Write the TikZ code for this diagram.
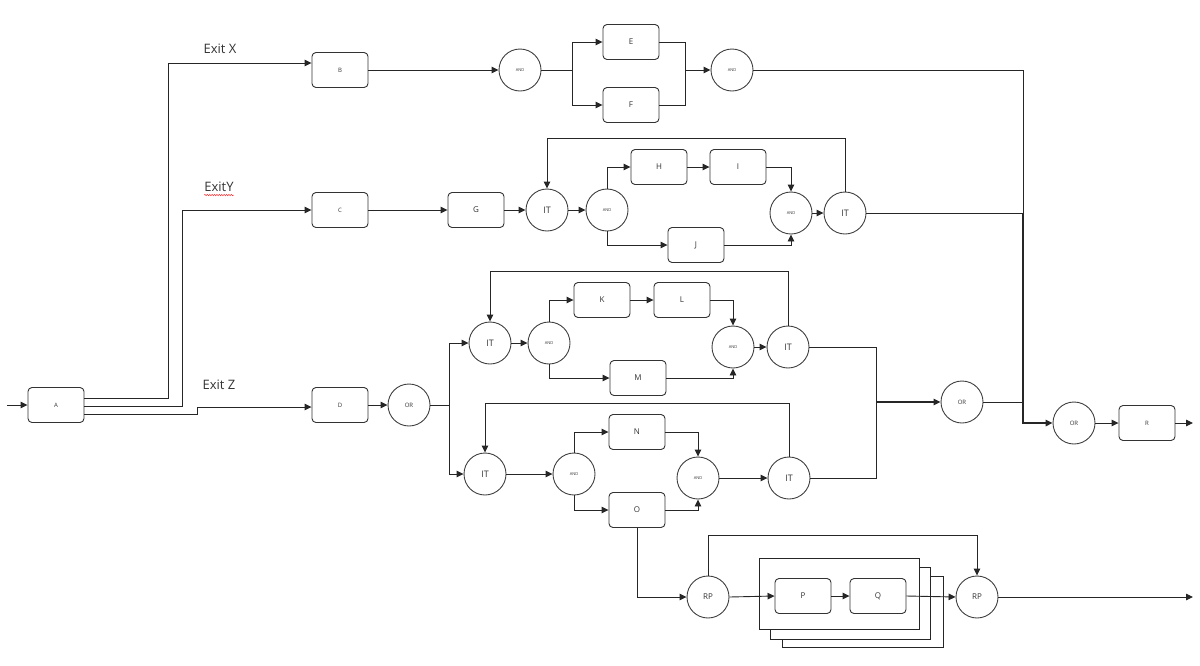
\documentclass[tikz,border=0pt]{standalone}
\usepackage{fontspec}
\setmainfont{Open Sans}
\usetikzlibrary{arrows.meta,calc,decorations.pathmorphing}
\begin{document}
\begin{tikzpicture}[x=1pt,y=-1pt,
  ln/.style={draw=black!85,line width=0.9pt},
  arr/.style={ln,-{Triangle[length=7pt,width=6.5pt]}},
  box/.style={draw=black!80,line width=0.9pt,rounded corners=4pt,minimum width=56pt,minimum height=35pt,inner sep=0pt,fill=white,text=black!80,font=\fontsize{8}{9}\selectfont},
  sbox/.style={box,font=\fontsize{6}{7}\selectfont},
  circ/.style={draw=black!75,line width=0.9pt,circle,minimum size=42pt,inner sep=0pt,fill=white,text=black!80},
  andc/.style={circ,font=\fontsize{4}{5}\selectfont},
  orc/.style={circ,font=\fontsize{6}{7}\selectfont},
  itc/.style={circ,font=\fontsize{9}{10}\selectfont},
  rpc/.style={circ,font=\fontsize{8}{9}\selectfont},
  lbl/.style={text=black!80,font=\fontsize{13}{14}\selectfont,inner sep=0pt},
  stack/.style={draw=black!85,line width=0.9pt,fill=white}
]
\useasboundingbox (0,0) rectangle (1200,665);

% stacked frames
\draw[stack] (782,576) rectangle (943,647);
\draw[stack] (770,567) rectangle (930,639);
\draw[stack] (759,558) rectangle (919,629);

% nodes
\node[sbox] (A) at (56,405) {A};
\node[sbox] (B) at (340,70) {B};
\node[sbox] (C) at (340,210) {C};
\node[sbox] (D) at (340,405) {D};
\node[orc] (ORa) at (409,405) {OR};

\node[andc] (AND1) at (520,70) {AND};
\node[box] (E) at (631,42) {E};
\node[box] (F) at (631,105) {F};
\node[andc] (AND2) at (732,70) {AND};

\node[box] (G) at (476,210) {G};
\node[itc] (IT1) at (547,210) {IT};
\node[andc] (AND3) at (607,210) {AND};
\node[box] (H) at (659,167) {H};
\node[box] (I) at (738,167) {I};
\node[box] (J) at (696,245) {J};
\node[andc] (AND4) at (791,213) {AND};
\node[itc] (IT2) at (845,213) {IT};

\node[itc] (IT3) at (490,343) {IT};
\node[andc] (AND5) at (549,343) {AND};
\node[box] (K) at (602,300) {K};
\node[box] (L) at (682,300) {L};
\node[box] (M) at (638,378) {M};
\node[andc] (AND6) at (733,347) {AND};
\node[itc] (IT4) at (788,347) {IT};

\node[itc] (IT5) at (485,474) {IT};
\node[andc] (AND7) at (574,474) {AND};
\node[box] (N) at (637,432) {N};
\node[box] (O) at (637,510) {O};
\node[andc] (AND8) at (698,478) {AND};
\node[itc] (IT6) at (789,478) {IT};

\node[orc] (OR1) at (962,402) {OR};
\node[orc] (OR2) at (1074,423) {OR};
\node[sbox] (R) at (1147,423) {R};

\node[rpc] (RP1) at (708,597) {RP};
\node[box] (P) at (803,596) {P};
\node[box] (Q) at (878,596) {Q};
\node[rpc] (RP2) at (977,597) {RP};

% labels
\node[lbl] (lx) at (220,49) {Exit X};
\node[lbl] (ly) at (219,187) {ExitY};
\node[lbl] (lz) at (219,385) {Exit Z};
\draw[red!80,line width=0.5pt,decorate,decoration={snake,amplitude=0.7pt,segment length=2.4pt}] ($(ly.south west)+(0,3)$) -- ($(ly.south east)+(0,3)$);

% coordinates
\coordinate (in) at (7,405);
\coordinate (sp) at (449,405);
\coordinate (m1) at (685,70);
\coordinate (v2) at (1023,423);
\coordinate (v3) at (876,402);
\coordinate (out1) at (1193,423);
\coordinate (out2) at (1193,597);

% connectors from A
\draw[arr] (in) -- (A.west);
\draw[arr] ($(A.east)+(0,-7)$) -- ($(A.east)+(84,-7)$) |- ($(B.west)+(0,-7)$);
\draw[arr] ($(A.east)+(0,1)$) -- ($(A.east)+(98,1)$) |- (C.west);
\draw[arr] ($(A.east)+(0,9)$) -- ($(A.east)+(113,9)$) |- ($(D.west)+(0,2)$);

% row 1
\draw[arr] (B.east) -- (AND1.west);
\draw[arr] (AND1.east) -- ++(31,0) |- (E.west);
\draw[arr] (AND1.east) -- ++(31,0) |- (F.west);
\draw[ln] (E.east) -| (m1);
\draw[ln] (F.east) -| (m1);
\draw[arr] (m1) -- (AND2.west);
\draw[ln] (AND2.east) -| (IT2.east -| v2);
\draw[arr,line width=1.5pt] (IT2.east -| v2) -- (v2) -- (OR2.west);

% row 2
\draw[arr] (C.east) -- (G.west);
\draw[arr] (G.east) -- (IT1.west);
\draw[arr] (IT1.east) -- (AND3.west);
\draw[arr] (AND3.north) |- (H.west);
\draw[arr] (H.east) -- (I.west);
\draw[arr] (I.east) -| (AND4.north);
\draw[arr] (AND3.south) |- (J.west);
\draw[arr] (J.east) -| (AND4.south);
\draw[arr] (AND4.east) -- (IT2.west);
\draw[arr] (IT2.north) -- ++(0,-53) -| (IT1.north);
\draw[ln] (IT2.east) -- (IT2.east -| v2);

% D and split
\draw[arr] (D.east) -- (ORa.west);
\draw[ln] (ORa.east) -- (sp);
\draw[arr] (sp) |- (IT3.west);
\draw[arr] (sp) |- (IT5.west);

% row 3
\draw[arr] (IT3.east) -- (AND5.west);
\draw[arr] (AND5.north) |- (K.west);
\draw[arr] (K.east) -- (L.west);
\draw[arr] (L.east) -| (AND6.north);
\draw[arr] (AND5.south) |- (M.west);
\draw[arr] (M.east) -| (AND6.south);
\draw[arr] (AND6.east) -- (IT4.west);
\draw[arr] (IT4.north) -- ++(0,-54) -| (IT3.north);
\draw[ln] (IT4.east) -| (v3);

% row 4
\draw[arr] (IT5.east) -- (AND7.west);
\draw[arr] (AND7.north) |- (N.west);
\draw[arr] (AND7.south) |- (O.west);
\draw[arr] (N.east) -| (AND8.north);
\draw[arr] (O.east) -| (AND8.south);
\draw[arr] (AND8.east) -- (IT6.west);
\draw[arr] (IT6.north) -- ++(0,-53) -| (IT5.north);
\draw[ln] (IT6.east) -| (v3);

% merge
\draw[arr,line width=1.2pt] (v3) -- (OR1.west);
\draw[ln] (OR1.east) -- (OR1.east -| v2);
\draw[arr] (OR2.east) -- (R.west);
\draw[arr] (R.east) -- (out1);

% bottom
\draw[arr] (O.south) |- (RP1.west);
\draw[arr] (RP1.east) -- (P.west);
\draw[arr] (P.east) -- (Q.west);
\draw[arr] (Q.east) -- (RP2.west);
\draw[arr] (RP1.north) -- ++(0,-40) -| (RP2.north);
\draw[arr] (RP2.east) -- (out2);
\end{tikzpicture}
\end{document}
